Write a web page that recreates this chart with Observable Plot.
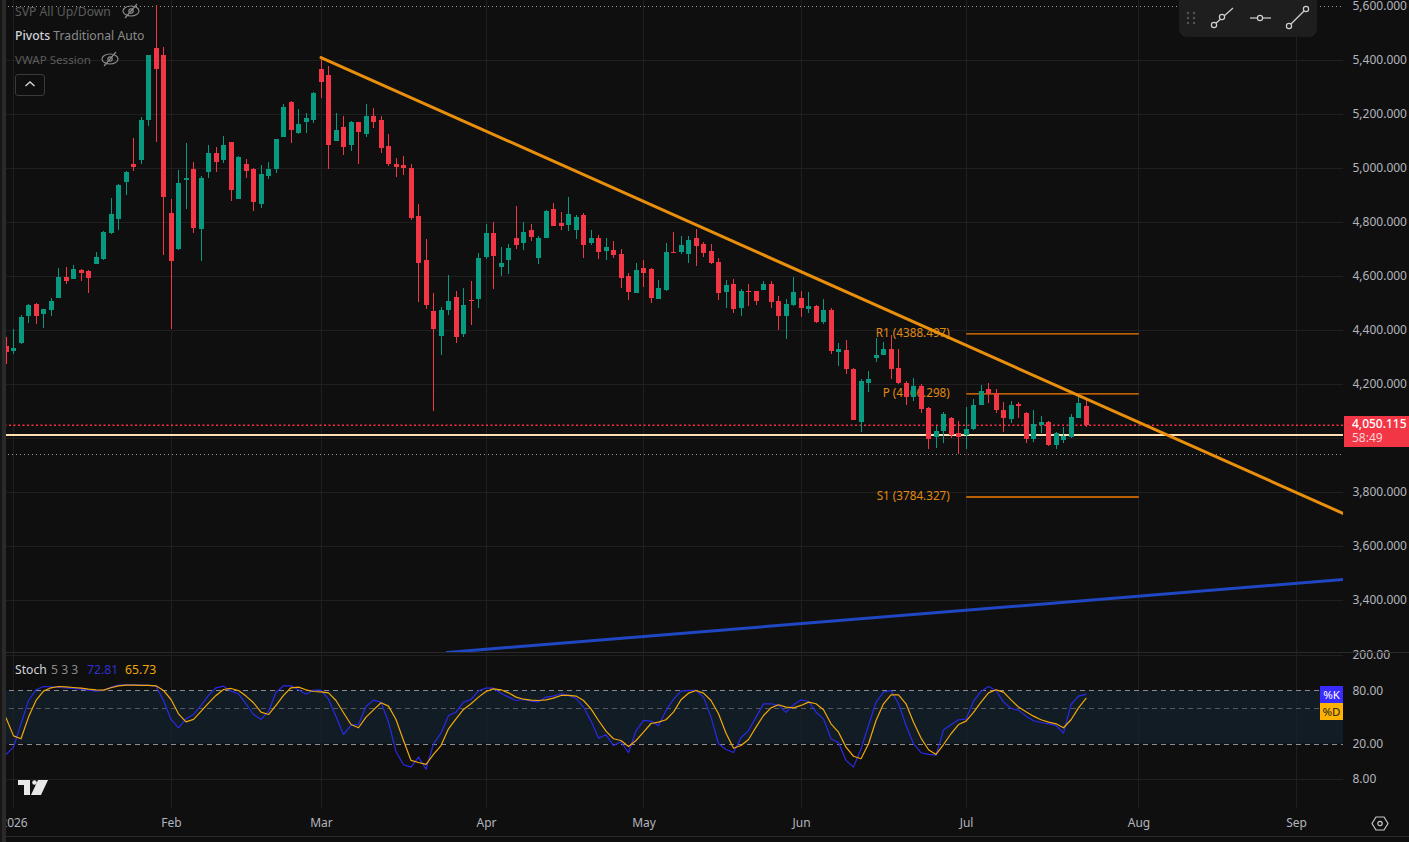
<!DOCTYPE html>
<html>
<head>
<meta charset="utf-8">
<script src="https://cdn.jsdelivr.net/npm/d3@7"></script>
<script src="https://cdn.jsdelivr.net/npm/@observablehq/plot@0.6"></script>
<style>
html,body{margin:0;padding:0;background:#0f0f0f;width:1409px;height:842px;overflow:hidden;font-family:"Noto Sans",sans-serif;}
#charts svg{display:block;}
.o{position:absolute;white-space:nowrap;font-size:12.2px;line-height:15px;}
</style>
</head>
<body>
<div id="charts"></div>
<script>
// Candles: one entry per trading day; bar -1 is 31 Dec 2025
const opens = [4342,4323,4353,4453,4499,4460,4475,4520,4598,4590,4623,4620,4646,4664,4760,4812,4949,5016,5031,5179,5446,5420,4835,4701,4957,4998,4775,4986,5057,5031,5098,4886,5016,4998,4868,4972,4998,5116,5246,5131,5172,5179,5368,5346,5101,5153,5086,5172,5127,5194,5179,5083,5016,5012,5001,4823,4660,4472,4379,4475,4523,4386,4512,4516,4672,4760,4635,4660,4742,4723,4772,4668,4742,4849,4798,4790,4772,4827,4723,4742,4694,4698,4683,4601,4538,4631,4627,4516,4549,4690,4690,4683,4742,4720,4694,4653,4542,4572,4483,4546,4546,4549,4572,4509,4453,4494,4520,4479,4490,4431,4475,4320,4327,4257,4060,4205,4298,4309,4331,4260,4205,4153,4194,4112,4005,4027,4075,4020,4012,4035,4123,4183,4168,4105,4072,4127,4094,3998,4049,4060,3975,3994,4005,4075,4120];
const highs = [4375,4405,4457,4499,4501,4479,4518,4631,4635,4641,4626,4623,4690,4767,4890,4942,4989,5112,5190,5420,5605,5449,4886,4994,5094,5023,4972,5086,5079,5120,5098,5046,5035,5001,5012,5023,5109,5238,5249,5220,5205,5283,5416,5379,5205,5194,5175,5172,5238,5223,5194,5127,5038,5046,5016,4868,4738,4538,4486,4605,4546,4557,4583,4686,4794,4801,4709,4720,4860,4801,4794,4749,4846,4872,4838,4894,4827,4835,4772,4753,4742,4731,4701,4612,4649,4660,4631,4586,4723,4764,4749,4749,4775,4727,4720,4668,4586,4590,4553,4572,4546,4583,4583,4527,4516,4598,4546,4542,4494,4516,4483,4353,4364,4260,4220,4249,4372,4357,4383,4331,4212,4223,4201,4116,4046,4098,4079,4064,4116,4146,4198,4205,4183,4135,4138,4135,4098,4105,4083,4064,4023,4042,4090,4164,4142];
const lows = [4275,4312,4349,4426,4423,4409,4453,4520,4572,4590,4583,4538,4646,4660,4757,4772,4901,4990,5016,5157,5098,4679,4405,4698,4849,4760,4657,4964,4986,5020,4879,4886,4964,4842,4853,4960,4983,5116,5094,5127,5131,5168,5260,4998,5101,5049,5064,5016,5116,5149,5057,5009,4968,4975,4809,4505,4479,4101,4309,4457,4353,4375,4420,4483,4664,4553,4601,4609,4701,4698,4731,4646,4742,4786,4772,4768,4738,4668,4716,4664,4660,4668,4557,4512,4538,4560,4501,4516,4546,4686,4683,4649,4638,4672,4646,4512,4483,4464,4453,4490,4494,4549,4483,4401,4368,4490,4449,4464,4427,4423,4312,4268,4238,4068,4023,4172,4283,4309,4220,4201,4123,4138,4094,3960,3964,3983,4001,3942,3960,4031,4123,4131,4094,4023,4057,4075,3983,3986,4020,3972,3960,3983,4001,4075,4042];
const closes = [4320,4335,4449,4494,4453,4479,4509,4598,4583,4627,4612,4594,4672,4764,4831,4938,4986,5005,5179,5420,5368,4894,4657,4946,4964,4779,4964,5057,5023,5086,4920,5042,4990,4875,4979,4998,5109,5227,5142,5164,5186,5279,5320,5086,5142,5079,5172,5135,5194,5172,5075,5016,5005,5001,4816,4649,4494,4405,4475,4509,4375,4494,4509,4668,4760,4675,4649,4705,4716,4764,4746,4742,4842,4786,4786,4831,4820,4716,4742,4690,4709,4679,4594,4542,4623,4612,4520,4557,4690,4686,4716,4735,4712,4686,4649,4538,4568,4479,4546,4542,4509,4572,4505,4453,4498,4542,4483,4490,4431,4475,4323,4331,4257,4068,4212,4220,4309,4331,4257,4205,4153,4194,4109,3998,4027,4090,4012,4005,4035,4123,4175,4164,4105,4075,4123,4120,3998,4053,4060,3975,4020,4009,4079,4131,4050.115];
// Stochastic 5 3 3
const stochK = [15.3,18.5,33.9,62.2,82.1,89.5,88.7,87.2,86.5,85,83.5,81.4,79.3,80.7,88,92.7,93.5,93.5,92.7,91.9,90.3,62.2,38,30.6,38.6,43.2,54.7,70.9,86.5,90.3,79.3,74,57.1,43.2,38,46.8,77.2,91.1,91.1,82.1,73.3,81.4,81.4,64.3,41.1,25.7,32.5,33.3,53.3,62.8,59.6,35.4,16.5,11.7,11,14.3,10.4,20.2,26.6,42.1,45.9,59.6,63.8,80,85.7,85.7,75.2,67.9,62.2,63.8,61.1,60.1,67.9,69.7,74,70.9,65.6,52.4,36.4,23.4,25.5,19.3,21.3,16,28.3,37,36.4,32.2,48,64.3,79.3,80.7,80.7,67.9,40.4,20.2,17.4,16.1,23.6,28.3,40.4,57.1,57.1,54.7,45.6,55.6,63.3,60.6,45.9,38.6,23,20.7,13.1,11,17.7,32.5,59.6,77.2,80.7,57.1,32.5,20.2,16,15.3,15,29,33.1,37.7,38.3,61.1,78.6,89.5,80.7,59.6,50.5,48.4,41.4,36.7,35.1,33.9,32.5,26.6,56,69.7,72.81];
const stochD = [39.7,24.8,23,40.4,62.2,79.3,86.5,89.5,88.7,87.2,85.7,83.5,82.1,81.4,86.5,91.1,92.7,92.7,91.9,91.9,91.1,80.7,63.8,44,35.7,38,46.8,58.1,70.9,82.8,85,80.7,69.7,58.6,45.9,43.2,54.7,70.9,86.5,88,82.1,78.6,77.9,75.9,62.2,45.2,33.3,30.6,40.4,48.8,58.6,53.7,38,22,13.1,12.4,11.8,15.3,19.3,29.8,38.6,49.3,57.1,67.9,78.6,84.2,82.1,75.9,67.9,64.3,62.8,62.2,63.3,66.2,70.9,70.9,69.7,62.2,50.1,37,28,23,22,18.8,22,27.3,34.2,35.4,37.7,45.9,63.3,75.2,80.7,75.2,62.2,44,26.6,18,19.3,22.6,31.1,42.1,51.4,55.6,52.4,51.4,54.7,59.6,57.1,48.8,33.9,27.3,18.5,14.6,13.7,20.2,37,57.1,72.1,72.1,57.1,35.4,23.4,17.3,15.3,19.8,26.2,33.3,36.4,45.6,59.6,75.9,82.1,77.2,63.3,52.4,46.3,41.4,37.7,35.4,33.9,30.6,37.7,51.4,65.73];
// Axes
const priceTicks = [5600,5400,5200,5000,4800,4600,4400,4200,3800,3600,3400];
const priceGrid = [5400,5200,5000,4800,4600,4400,4200,4000,3800,3600,3400];
const monthBars = [0,21,41,63,84,105,127,150,171];
const monthLabels = ["2026","Feb","Mar","Apr","May","Jun","Jul","Aug","Sep"];
const stochTicks = [200,80,20,8];
// Levels and drawn lines
const pivots = [
  {label:"R1 (4388.497)", price:4388.497},
  {label:"P (4166.298)", price:4166.298},
  {label:"S1 (3784.327)", price:3784.327}
];
const pivotFrom = 127.1, pivotTo = 150.1;
const dottedLevels = [5600, 3941];
const lastPrice = 4050.115, supportLevel = 4015;
const orangeTrendBars = [41, 177.33], orangeTrendPrices = [5412, 3723];
const blueTrendBars = [57.8, 177.33], blueTrendPrices = [3208.5, 3479];

const barIndex = d3.range(-1, 144);
const candles = barIndex.map((bar, k) => ({bar, o:opens[k], h:highs[k], l:lows[k], c:closes[k], up:closes[k] >= opens[k]}));
const stochRows = barIndex.map((bar, k) => ({bar, k:stochK[k], d:stochD[k]}));
const xDomain = [-13/7.5, 177.33];
const UP = "#089981", DOWN = "#f23645", GRID = "#1f1f1f", AXIS = "#b2b5be";
const fmtColor = d => d.up ? UP : DOWN;
const pick = (a, b) => a.map((x, k) => ({x, y:b[k]}));
const font = {fontFamily:'"Noto Sans",sans-serif', fontSize:"12px", background:"transparent", color:AXIS, overflow:"visible"};

const main = Plot.plot({
  width:1409, height:652, marginTop:0, marginBottom:0, marginLeft:0, marginRight:66, style:font,
  x:{domain:xDomain, axis:null},
  y:{domain:[3208.5,5623.3], range:[652,0]},
  marks:[
    Plot.ruleX(monthBars, {stroke:GRID, shapeRendering:"crispEdges"}),
    Plot.ruleY(priceGrid, {stroke:GRID, shapeRendering:"crispEdges"}),
    Plot.ruleY(dottedLevels, {stroke:"#9a9a9a", strokeDasharray:"1,3", shapeRendering:"crispEdges"}),
    Plot.text(pivots, {x:()=>pivotFrom, y:"price", text:"label", textAnchor:"end", dx:-17, dy:-1, fill:"#e08a12", fontSize:11.7}),
    Plot.ruleY(pivots, {y:"price", x1:()=>pivotFrom, x2:()=>pivotTo, stroke:"#f57c00", strokeWidth:d => d.price < 3800 ? 1.6 : 1.2}),
    Plot.ruleY([lastPrice], {stroke:"#ff2d3f", strokeWidth:1.6, strokeDasharray:"2,2.5"}),
    Plot.ruleY([supportLevel], {stroke:"#ffe0b2", strokeWidth:2, shapeRendering:"crispEdges"}),
    Plot.ruleX(candles, {x:"bar", y1:"l", y2:"h", stroke:fmtColor, strokeWidth:1, shapeRendering:"crispEdges"}),
    Plot.ruleX(candles, {x:"bar", y1:"o", y2:"c", stroke:fmtColor, strokeWidth:5, shapeRendering:"crispEdges"}),
    Plot.line(pick(orangeTrendBars, orangeTrendPrices), {x:"x", y:"y", stroke:"#ea8f0c", strokeWidth:3, clip:true}),
    Plot.line(pick(blueTrendBars, blueTrendPrices), {x:"x", y:"y", stroke:"#1f47c4", strokeWidth:3, clip:true}),
    Plot.axisY(priceTicks, {anchor:"right", tickSize:0, tickPadding:9, dy:-0.5, tickFormat:d3.format(",.3f"), label:null, fill:AXIS, fontSize:12})
  ]
});

const stoch = Plot.plot({
  width:1409, height:190, marginTop:0, marginBottom:34, marginLeft:0, marginRight:66, style:font,
  x:{domain:xDomain},
  y:{type:"log", domain:[8,80], range:[126.9,38.3], axis:null},
  marks:[
    Plot.rect([{a:20,b:80}], {x1:()=>xDomain[0], x2:()=>xDomain[1], y1:"a", y2:"b", fill:"#121c25"}),
    Plot.ruleX(monthBars, {stroke:GRID, shapeRendering:"crispEdges"}),
    Plot.ruleY([200,8], {stroke:GRID, shapeRendering:"crispEdges"}),
    Plot.ruleY([80,20], {stroke:"#8a8d96", strokeDasharray:"5,4", shapeRendering:"crispEdges"}),
    Plot.ruleY([50], {stroke:"#545a60", strokeDasharray:"5,4", shapeRendering:"crispEdges"}),
    Plot.line(stochRows, {x:"bar", y:"k", stroke:"#2a2ae6", strokeWidth:1.2}),
    Plot.line(stochRows, {x:"bar", y:"d", stroke:"#f2a80a", strokeWidth:1.2}),
    Plot.text(stochTicks, {x:()=>xDomain[1], y:d=>d, text:d3.format(".2f"), textAnchor:"start", dx:9, dy:0, fill:AXIS, fontSize:12}),
    Plot.axisX(monthBars, {anchor:"bottom", tickSize:0, tickPadding:10, dx:0.5, tickFormat:d => monthLabels[monthBars.indexOf(d)], label:null, fill:AXIS, fontSize:12})
  ]
});

document.getElementById("charts").append(main, stoch);

// Chart furniture around the two panes
const eye = (x, y) => `<svg style="position:absolute;left:${x}px;top:${y}px" width="20" height="16" fill="none" stroke="#8a8a8a" stroke-width="1.2"><ellipse cx="10" cy="8" rx="8" ry="5"/><circle cx="10" cy="8" r="2.2"/><line x1="4" y1="15" x2="16" y2="1"/></svg>`;
const tool = (x1,y1,x2,y2,dots) => `<line x1="${x1}" y1="${y1}" x2="${x2}" y2="${y2}"/>` + dots.map(d=>`<circle cx="${d[0]}" cy="${d[1]}" r="2.6" fill="#1e1e1e"/>`).join("");
const overlay = `
<div style="position:absolute;left:0;top:0;width:2px;height:842px;background:#161616"></div>
<div style="position:absolute;left:2px;top:0;width:4px;height:842px;background:#2a2a2a"></div>
<div style="position:absolute;left:6px;top:652px;width:1403px;height:1px;background:#2a2a2a"></div>
<div style="position:absolute;left:6px;top:836px;width:1403px;height:1px;background:#2a2a2a"></div>
<div class="o" style="left:15px;top:4px;color:#5c5c5c">SVP All Up/Down</div>${eye(121,3)}
<div class="o" style="left:15px;top:28px;color:#d1d4dc"><b style="font-weight:500">Pivots</b> <span style="color:#8a8a8a">Traditional Auto</span></div>
<div class="o" style="left:15px;top:52px;color:#5c5c5c;font-size:11.6px">VWAP Session</div>${eye(100,51)}
<div style="position:absolute;left:15px;top:74px;width:28px;height:20px;border:1px solid #3a3a3a;border-radius:3px"></div>
<svg style="position:absolute;left:24px;top:80px" width="12" height="8" fill="none" stroke="#d1d4dc" stroke-width="1.4"><path d="M1.5 6 L6 2 L10.5 6"/></svg>
<div class="o" style="left:15px;top:662px;color:#d1d4dc">Stoch</div>
<div class="o" style="left:51px;top:662px;color:#8a8a8a">5 3 3</div>
<div class="o" style="left:87px;top:662px;color:#2f2fd0">72.81</div>
<div class="o" style="left:125px;top:662px;color:#f2a80a">65.73</div>
<div style="position:absolute;left:1179px;top:0;width:138px;height:37px;background:#1e1e1e;border-radius:0 0 8px 8px"></div>
<svg style="position:absolute;left:1179px;top:0" width="138" height="37" fill="none" stroke="#d0d0d0" stroke-width="1.2">
  <g fill="#555" stroke="none"><circle cx="9" cy="13" r="1.2"/><circle cx="15" cy="13" r="1.2"/><circle cx="9" cy="18" r="1.2"/><circle cx="15" cy="18" r="1.2"/><circle cx="9" cy="23" r="1.2"/><circle cx="15" cy="23" r="1.2"/></g>
  ${tool(35,25,54,8,[[35,25],[43,17]])}${tool(71,18,92,18,[[81,18]])}${tool(110,26,127,9,[[110,26],[127,9]])}
</svg>
<div style="position:absolute;left:1344px;top:416px;width:65px;height:31px;background:#f23645"></div>
<div class="o" style="left:1352px;top:417px;color:#fff;font-size:12px;font-weight:500;line-height:14px">4,050.115</div>
<div class="o" style="left:1352px;top:431px;color:#ffd0d5;font-size:12px;line-height:14px">58:49</div>
<div style="position:absolute;left:1320px;top:686px;width:23px;height:17px;background:#3a2bff;color:#fff;font-size:11.5px;line-height:17px;text-align:center">%K</div>
<div style="position:absolute;left:1320px;top:703px;width:23px;height:17px;background:#ffb300;color:#222;font-size:11.5px;line-height:17px;text-align:center">%D</div>
<svg style="position:absolute;left:17px;top:779px" width="32" height="17" fill="#e8e8e8"><path d="M1 1 H13 V16 H7 V6 H1 Z"/><circle cx="17.500" cy="3.500" r="2.300"/><path d="M21 1 H31 L24 16 H14 Z"/></svg>
<svg style="position:absolute;left:1371px;top:815px" width="18" height="17" fill="none" stroke="#c8c8c8" stroke-width="1.2"><path d="M5 2 H13 L17 8.500 L13 15 H5 L1 8.500 Z"/><circle cx="9" cy="8.500" r="2.200"/></svg>`;
document.body.insertAdjacentHTML("beforeend", overlay);
</script>
</body>
</html>
